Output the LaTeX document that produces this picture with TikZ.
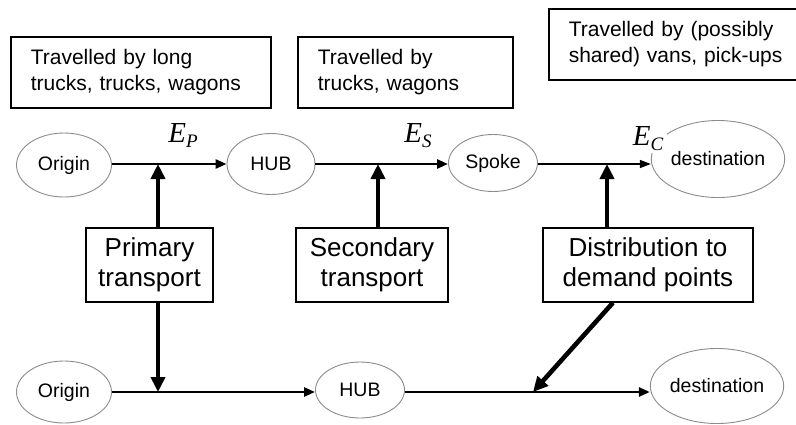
\documentclass[tikz,border=0pt]{standalone}
\usepackage{fontspec}
\setmainfont{Liberation Sans}
\newfontfamily\timesfont{Liberation Serif}
\usetikzlibrary{arrows.meta,shapes.geometric}
\newcommand{\elab}[1]{{\timesfont\itshape E\raisebox{-5pt}{\fontsize{19}{19}\selectfont #1}}}

\begin{document}
\begin{tikzpicture}[x=1pt,y=-1pt,
		place/.style={draw=black!45,line width=0.9pt,ellipse,inner sep=0pt,font=\fontsize{19.5}{21}\selectfont},
		infobox/.style={draw,line width=1.6pt,anchor=north west,align=left,inner xsep=20pt,minimum height=71pt,font=\fontsize{21}{26.5}\selectfont},
		taskbox/.style={draw,line width=1.3pt,align=center,minimum height=74pt,inner xsep=4pt,font=\fontsize{26}{30}\selectfont},
		elabel/.style={fill=white,inner sep=2pt,font=\fontsize{29}{30}\selectfont},
		flow/.style={line width=2.6pt,-{Triangle[length=11pt,width=9pt]}},
		thinflow/.style={line width=1.4pt,-{Triangle[length=11pt,width=8pt]}},
		bigflow/.style={line width=4.6pt,-{Triangle[length=15pt,width=14pt]}}]
			%%%%% START %%%%%
			
			\useasboundingbox (0,0) rectangle (796,424);
			
			% vehicle boxes
			\node[infobox,minimum width=260pt,text width=220pt] (trucks) at (10,36) {Travelled by long\\trucks, trucks, wagons};
			\node[infobox,minimum width=215pt,text width=175pt] (wagons) at (297,36) {Travelled by\\trucks, wagons};
			\node[infobox,minimum width=252pt,text width=214pt] (vans) at (548,8) {Travelled by (possibly\\shared) vans, pick-ups};
			
			% upper chain
			\node[place,minimum width=95pt,minimum height=64pt] (origin1) at (64,165) {Origin};
			\node[place,minimum width=88pt,minimum height=61pt] (hub1) at (271,164) {HUB};
			\node[place,minimum width=89pt,minimum height=57pt] (spoke) at (493,163) {Spoke};
			\node[place,minimum width=118pt,minimum height=77pt] (dest1) at (718,159) {destination};
			
			% lower chain
			\node[place,minimum width=95pt,minimum height=62pt] (origin2) at (64,392) {Origin};
			\node[place,minimum width=89pt,minimum height=56pt] (hub2) at (360,390) {HUB};
			\node[place,minimum width=118pt,minimum height=75pt] (dest2) at (717,386) {destination};
			
			% transport stages
			\node[taskbox,minimum width=127pt] (primary) at (149.5,265) {Primary\\transport};
			\node[taskbox,minimum width=152pt] (secondary) at (372,265) {Secondary\\transport};
			\node[taskbox,minimum width=210pt] (distrib) at (648,265) {Distribution to\\demand points};
			
			% meeting points on the flows
			\coordinate (pp) at (158,164);
			\coordinate (ss) at (378,164);
			\coordinate (cc) at (607,164);
			\coordinate (cc2) at (610,164);
			\coordinate (pp2) at (158,392);
			\coordinate (dd2) at (533,392);
			
			\draw[flow] (origin1.east |- pp) -- (hub1.west |- pp);
			\draw[flow] (hub1.east |- ss) -- (spoke.west |- ss);
			\draw[line width=2.6pt] (spoke.east |- cc) -- (cc2);
			\draw[thinflow] (cc2) -- (dest1.west |- cc2);
			
			\draw[flow] (origin2.east |- pp2) -- (hub2.west |- pp2);
			\draw[flow] (hub2.east |- pp2) -- (dest2.west |- pp2);
			
			\draw[bigflow] (primary.north -| pp) -- (pp);
			\draw[bigflow] (secondary.north -| ss) -- (ss);
			\draw[bigflow] (distrib.north -| cc) -- (cc);
			\draw[bigflow] (primary.south -| pp2) -- (pp2);
			\draw[bigflow] ([xshift=-35pt]distrib.south) -- (dd2);
			
			% edge sets
			\node[elabel] (ep) at (183,136) {\elab{P}};
			\node[elabel] (es) at (418,136) {\elab{S}};
			\node[elabel,inner xsep=4pt] (ec) at (648,139) {\elab{C}};
			
			%%%%% END %%%%%
		\end{tikzpicture}
\end{document}
